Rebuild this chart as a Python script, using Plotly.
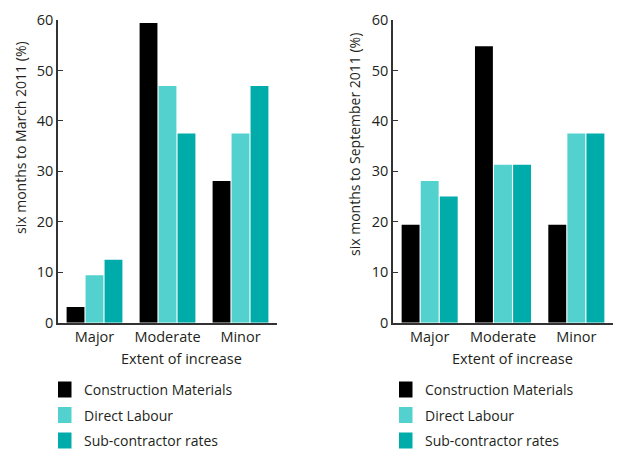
import plotly.graph_objects as go

# Categories and series
categories = ["Major", "Moderate", "Minor"]
series_names = ["Construction Materials", "Direct Labour", "Sub-contractor rates"]
series_colors = ["#000000", "#52D1CE", "#00ACA9"]

# Percentages, six months to March 2011
march_2011 = {
    "Construction Materials": [3.1, 59.4, 28.1],
    "Direct Labour": [9.4, 46.9, 37.5],
    "Sub-contractor rates": [12.5, 37.5, 46.9],
}
# Percentages, six months to September 2011
september_2011 = {
    "Construction Materials": [19.4, 54.8, 19.4],
    "Direct Labour": [28.1, 31.3, 37.5],
    "Sub-contractor rates": [25.0, 31.3, 37.5],
}

y_ticks = [0, 10, 20, 30, 40, 50, 60]
y_titles = ["six months to March 2011 (%)", "six months to September 2011 (%)"]
x_title = "Extent of increase"

W, H = 620, 450
FONT = "Open Sans"
TXT = "#231F20"
AX = "#333333"

fig = go.Figure()

for data, xa, ya in [(march_2011, "x", "y"), (september_2011, "x2", "y2")]:
    for name, color in zip(series_names, series_colors):
        fig.add_trace(go.Bar(
            x=categories, y=data[name], name=name,
            marker=dict(color=color, line=dict(width=0)),
            xaxis=xa, yaxis=ya, showlegend=False,
        ))

def px_x(v):
    return v / W

def px_y(v):
    return 1 - v / H

y_dom = [px_y(322.7), px_y(20)]
x_doms = [[px_x(58), px_x(277)], [px_x(393), px_x(613)]]

axis_common = dict(
    showgrid=False, zeroline=False, showline=True, linecolor=AX,
    automargin=False,
    tickfont=dict(family=FONT, size=14.5, color=TXT),
)
y_axis_common = dict(
    range=[0, 60], tickvals=y_ticks, linewidth=1.5,
    ticks="inside", ticklen=5, tickwidth=1.2, tickcolor=AX,
    **axis_common,
)

fig.update_layout(
    width=W, height=H,
    margin=dict(l=0, r=0, t=0, b=0, autoexpand=False),
    paper_bgcolor="white", plot_bgcolor="white",
    barmode="group", bargap=0.22, bargroupgap=0.06,
    font=dict(family=FONT, color=TXT),
    xaxis=dict(domain=x_doms[0], anchor="y", linewidth=2, ticks="", **axis_common),
    yaxis=dict(domain=y_dom, anchor="x", **y_axis_common),
    xaxis2=dict(domain=x_doms[1], anchor="y2", linewidth=2, ticks="", **axis_common),
    yaxis2=dict(domain=y_dom, anchor="x2", **y_axis_common),
)

annotations = []
shapes = []
panels = [
    dict(ytitle_x=20, ytitle_y=138, xtitle_x=181, legend_x=58),
    dict(ytitle_x=355, ytitle_y=145, xtitle_x=512, legend_x=399),
]
for panel, ytitle in zip(panels, y_titles):
    annotations.append(dict(
        text=ytitle, textangle=-90, showarrow=False,
        xref="paper", yref="paper",
        x=px_x(panel["ytitle_x"]), y=px_y(panel["ytitle_y"]),
        xanchor="center", yanchor="middle",
        font=dict(family=FONT, size=14, color=TXT),
    ))
    annotations.append(dict(
        text=x_title, showarrow=False, xref="paper", yref="paper",
        x=px_x(panel["xtitle_x"]), y=px_y(358),
        xanchor="center", yanchor="middle",
        font=dict(family=FONT, size=14.5, color=TXT),
    ))
    # Legend: colour swatch followed by series name
    for i, (name, color) in enumerate(zip(series_names, series_colors)):
        cy = 389.5 + i * 25.5
        lx = panel["legend_x"]
        shapes.append(dict(
            type="rect", xref="paper", yref="paper",
            x0=px_x(lx), x1=px_x(lx + 13.5),
            y0=px_y(cy - 8), y1=px_y(cy + 8),
            fillcolor=color, line=dict(width=0),
        ))
        annotations.append(dict(
            text=name, showarrow=False, xref="paper", yref="paper",
            x=px_x(lx + 24), y=px_y(cy), xanchor="left", yanchor="middle",
            font=dict(family=FONT, size=14, color=TXT),
        ))

fig.update_layout(annotations=annotations, shapes=shapes)

fig.write_html("out.html")
